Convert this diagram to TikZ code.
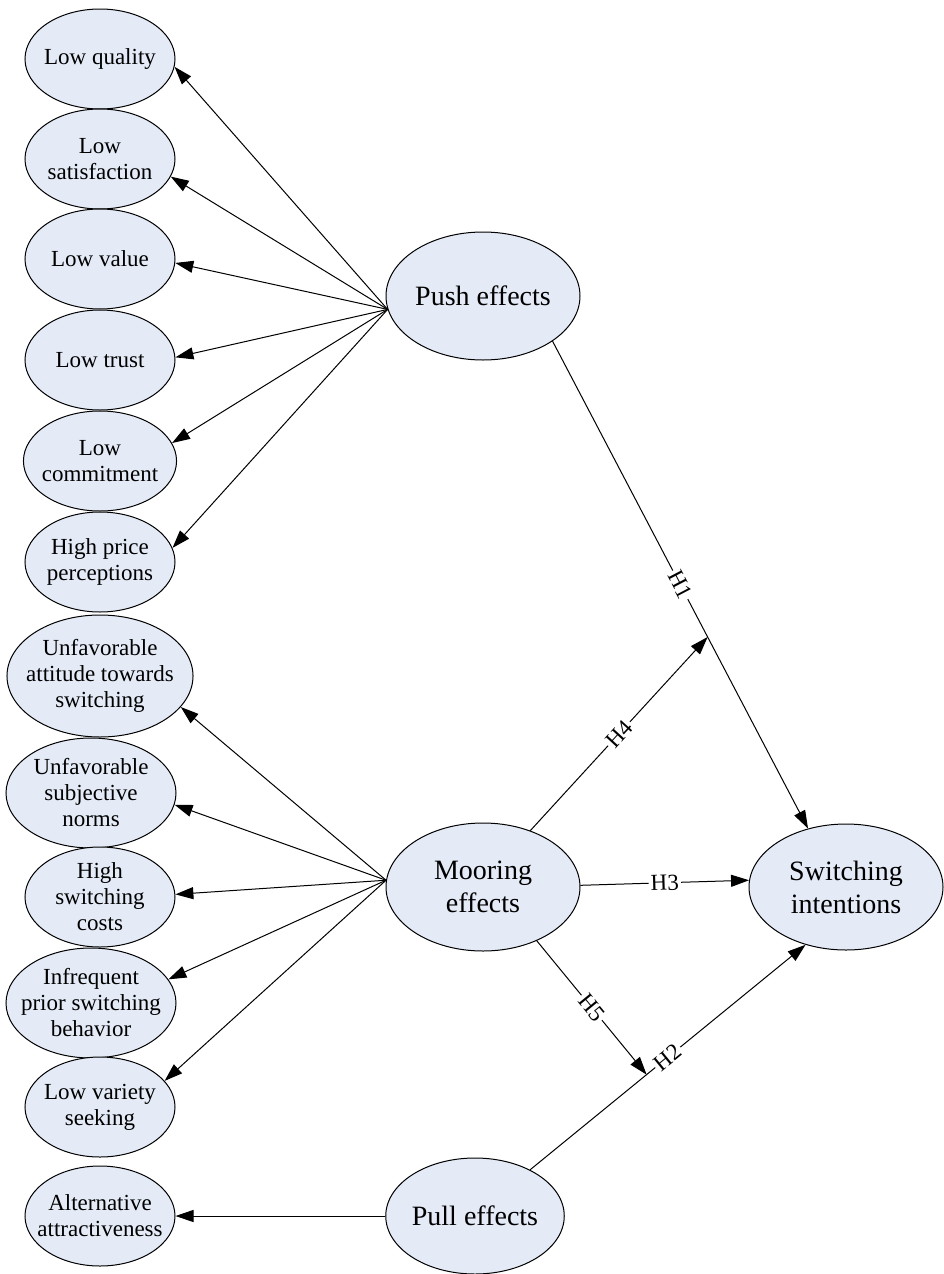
\documentclass[tikz,border=0pt]{standalone}
\usepackage{fontspec}
\setmainfont{Liberation Serif}
\usetikzlibrary{arrows.meta, shapes.geometric}
\definecolor{ovalfill}{RGB}{228,235,247}

\begin{document}
\begin{tikzpicture}[
>={Triangle[length=9pt,width=6pt]},
x=0.5pt, y=-0.5pt,
line width=0.5pt,
factor/.style={ellipse, draw, fill=ovalfill, align=center, inner sep=0pt,
  minimum width=97pt, minimum height=64pt, font=\fontsize{14}{16.5}\selectfont},
item/.style={ellipse, draw, fill=ovalfill, align=center, inner xsep=-2pt, inner ysep=0pt,
  minimum width=75pt, minimum height=50pt, font=\fontsize{11.5}{13}\selectfont},
hyp/.style={sloped, fill=white, inner sep=1pt, font=\fontsize{11.5}{13}\selectfont},
]
\useasboundingbox (0,0) rectangle (943,1274);

%% push side
% nodes
\node[item] (lq) at (100,59) {Low quality};
\node[item] (ls) at (100,159) {Low\\satisfaction};
\node[item] (lv) at (100,259) {Low value};
\node[item] (lt) at (100,360) {Low trust};
\node[item] (lc) at (100,461) {Low\\commitment};
\node[item] (hp) at (100,562) {High price\\perceptions};
\node[factor] (push) at (483,296) {Push effects};
% arrows
\draw[->] (push.188) -- (lq.-6);
\draw[->] (push.188) -- (ls.-14);
\draw[->] (push.188) -- (lv.-3);
\draw[->] (push.188) -- (lt.2);
\draw[->] (push.188) -- (lc.14);
\draw[->] (push.188) -- (hp.11);

%% mooring side
% nodes
\node[item, minimum width=93pt, minimum height=61pt, inner xsep=-4pt] (att) at (100,676) {Unfavorable\\attitude towards\\switching};
\node[item, minimum width=85pt, minimum height=55pt] (norm) at (91,793) {Unfavorable\\subjective\\norms};
\node[item, inner ysep=-1pt] (cost) at (100,897) {High\\switching\\costs};
\node[item, minimum width=85pt, minimum height=55pt, inner xsep=-5pt] (prior) at (91,1003) {Infrequent\\prior switching\\behavior};
\node[item] (vs) at (100,1107) {Low variety\\seeking};
\node[factor] (moor) at (483,887) {Mooring\\effects};
% arrows
\draw[->] (moor.176) -- (att.-21);
\draw[->] (moor.176) -- (norm.-8);
\draw[->] (moor.176) -- (cost.2);
\draw[->] (moor.176) -- (prior.17);
\draw[->] (moor.176) -- (vs.22);

%% pull side
% nodes
\node[item, inner xsep=-5pt] (alt) at (100,1216) {Alternative\\attractiveness};
\node[factor, minimum width=89pt, minimum height=58pt] (pull) at (475,1216) {Pull effects};
% arrows
\draw[->] (pull.west) -- (alt.east);

%% outcome
\node[factor, minimum height=63pt] (sw) at (846,887) {Switching\\intentions};

% hypotheses
\draw[->] (push.-33) -- node[hyp] {H1} coordinate[pos=0.607] (h1x) (sw.123);
\draw[->] (pull.40) -- node[hyp] {H2} coordinate[pos=0.423] (h2x) (sw.235);
\draw[->] (moor.1) -- node[hyp] {H3} (sw.176);
\draw[->] (moor.50) -- node[hyp] {H4} (h1x);
\draw[->] (moor.-45) -- node[hyp] {H5} (h2x);
\end{tikzpicture}
\end{document}
